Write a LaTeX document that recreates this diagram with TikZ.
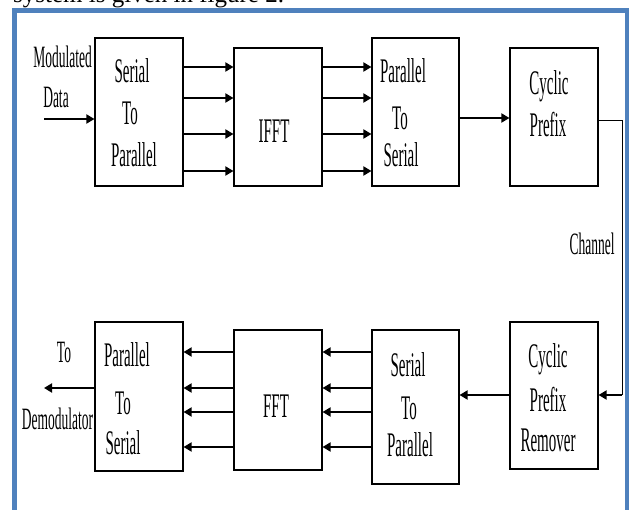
\documentclass[tikz,border=0pt]{standalone}
\usepackage{fontspec}
\setmainfont{Liberation Serif}
\usepackage{graphicx}
\usetikzlibrary{arrows.meta}
\definecolor{frameblue}{RGB}{79,129,189}
\newcommand\tall[1]{\scalebox{1}[2.3]{#1}}
\begin{document}
\begin{tikzpicture}[x=1pt,y=-1pt,
  blk/.style={draw, line width=1.1pt, inner sep=0pt},
  lbl/.style={inner sep=0pt, anchor=base, font=\fontsize{15}{18}\selectfont},
  side/.style={inner sep=0pt, anchor=base, font=\fontsize{13.5}{16}\selectfont},
  sig/.style={line width=1.8pt, -{Triangle[length=8pt,width=9pt]}},
  wire/.style={line width=0.9pt}
]
\useasboundingbox (0,0) rectangle (630,510);
\begin{scope}
  \clip (0,0) rectangle (630,510);
  \node[anchor=base west, inner sep=0pt, font=\fontsize{25}{25}\selectfont] (cap) at (13,3) {system is given in figure 2.};
  \draw[frameblue, line width=4.5pt] (14.7,530) -- (14.7,10.5) -- (627,10.5) -- (627,530);
\end{scope}

% top row blocks
\node[blk, minimum width=88pt, minimum height=148pt] (sp1) at (139,112) {};
\node[blk, minimum width=88pt, minimum height=138pt] (ifft) at (278,117) {};
\node[blk, minimum width=87pt, minimum height=148pt] (ps1) at (415.5,112) {};
\node[blk, minimum width=88pt, minimum height=138pt] (cp) at (554,117) {};
% bottom row blocks
\node[blk, minimum width=88pt, minimum height=147pt] (cpr) at (554,395.5) {};
\node[blk, minimum width=87pt, minimum height=154pt] (sp2) at (415.5,407) {};
\node[blk, minimum width=88pt, minimum height=140pt] (fft) at (278,400) {};
\node[blk, minimum width=88pt, minimum height=149pt] (ps2) at (139,396.5) {};

% block texts
\node[lbl] (sp1a) at (132,83) {\tall{Serial}};
\node[lbl] (sp1b) at (130,125) {\tall{To}};
\node[lbl] (sp1c) at (134,167) {\tall{Parallel}};
\node[lbl] (ifftt) at (274,143) {\tall{IFFT}};
\node[lbl] (ps1a) at (403,83) {\tall{Parallel}};
\node[lbl] (ps1b) at (400,130) {\tall{To}};
\node[lbl] (ps1c) at (401,167) {\tall{Serial}};
\node[lbl] (cpa) at (549,95) {\tall{Cyclic}};
\node[lbl] (cpb) at (548,137) {\tall{Prefix}};
\node[lbl] (cpra) at (548,368) {\tall{Cyclic}};
\node[lbl] (cprb) at (548,412) {\tall{Prefix}};
\node[lbl] (cprc) at (548,452) {\tall{Remover}};
\node[lbl] (sp2a) at (408,377) {\tall{Serial}};
\node[lbl] (sp2b) at (409,420) {\tall{To}};
\node[lbl] (sp2c) at (410,457) {\tall{Parallel}};
\node[lbl] (fftt) at (276,418) {\tall{FFT}};
\node[lbl] (ps2a) at (127,367) {\tall{Parallel}};
\node[lbl] (ps2b) at (123,415) {\tall{To}};
\node[lbl] (ps2c) at (123,455) {\tall{Serial}};

% side labels
\node[side] (mod) at (62.5,68) {\tall{Modulated}};
\node[side] (data) at (56,108) {\tall{Data}};
\node[side] (to) at (64,363) {\tall{To}};
\node[side] (demod) at (57.5,430) {\tall{Demodulator}};
\node[side] (chan) at (592,255) {\tall{Channel}};

% connectors
\coordinate (in) at (44,119);
\draw[sig] (in) -- (sp1.west |- in);
\foreach \yy in {67,98,134,171}{
  \draw[sig] (sp1.east |- 0,\yy) -- (ifft.west |- 0,\yy);
  \draw[sig] (ifft.east |- 0,\yy) -- (ps1.west |- 0,\yy);
}
\draw[sig] (ps1.east |- 0,118) -- (cp.west |- 0,118);
\coordinate (chtop) at (622,120);
\coordinate (chbot) at (622,395);
\draw[wire] (cp.east |- chtop) -- (chtop) -- (chbot);
\draw[sig] (chbot) -- (cpr.east |- chbot);
\draw[sig] (cpr.west |- 0,395) -- (sp2.east |- 0,395);
\foreach \yy in {352,388,412,447}{
  \draw[sig] (sp2.west |- 0,\yy) -- (fft.east |- 0,\yy);
  \draw[sig] (fft.west |- 0,\yy) -- (ps2.east |- 0,\yy);
}
\coordinate (out) at (44,388);
\draw[sig] (ps2.west |- out) -- (out);
\end{tikzpicture}
\end{document}
